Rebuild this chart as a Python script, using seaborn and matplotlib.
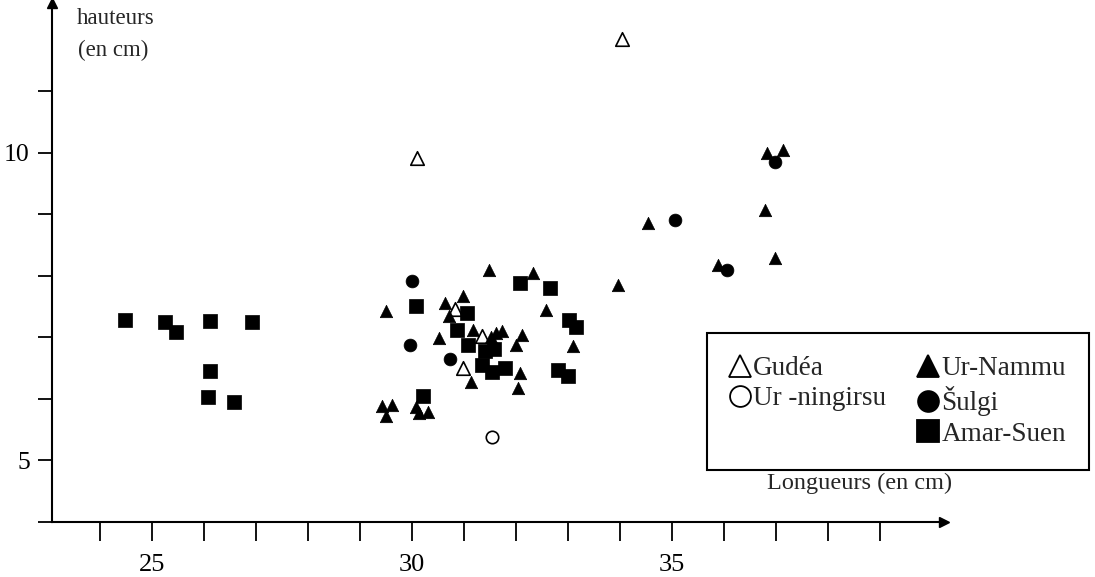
import matplotlib
matplotlib.use("Agg")
import matplotlib.pyplot as plt
from matplotlib.lines import Line2D
import seaborn as sns

# ---------------- data ----------------
gudea_x = [34.03, 30.10, 30.83, 31.34, 30.99]
gudea_y = [11.85, 9.91, 7.45, 7.02, 6.50]

urningirsu_x = [31.54]
urningirsu_y = [5.38]

urnammu_x = [29.51, 30.64, 30.99, 30.71, 30.53, 31.17, 31.52, 31.62, 31.74, 31.49,
             32.33, 32.57, 32.12, 32.01, 33.10, 32.08, 32.04, 31.13, 33.97, 34.54,
             35.88, 29.43, 29.61, 29.51, 30.07, 30.13, 30.31, 36.83, 37.14, 36.79,
             36.99]
urnammu_y = [7.42, 7.56, 7.66, 7.34, 6.99, 7.12, 7.00, 7.06, 7.10, 8.09,
             8.04, 7.44, 7.04, 6.87, 6.85, 6.42, 6.17, 6.27, 7.84, 8.86,
             8.18, 5.88, 5.90, 5.72, 5.87, 5.76, 5.78, 10.00, 10.04, 9.06,
             8.28]

sulgi_x = [30.01, 29.96, 30.74, 35.06, 36.05, 36.99]
sulgi_y = [7.92, 6.87, 6.65, 8.91, 8.09, 9.84]

amarsuen_x = [30.07, 31.05, 30.87, 31.08, 31.40, 31.58, 31.35, 31.54, 31.79, 32.08,
              32.66, 33.02, 33.15, 32.81, 33.00, 30.21,
              24.49, 25.25, 25.46, 26.12, 26.93, 26.12, 26.08, 26.58]
amarsuen_y = [7.51, 7.39, 7.11, 6.87, 6.77, 6.80, 6.54, 6.44, 6.50, 7.88,
              7.80, 7.27, 7.16, 6.47, 6.36, 6.04,
              7.28, 7.24, 7.09, 7.26, 7.25, 6.45, 6.03, 5.95]

x_ticks = list(range(24, 40))
x_tick_labels = ["25" if t == 25 else "30" if t == 30 else "35" if t == 35 else "" for t in x_ticks]
y_ticks = list(range(4, 12))
y_tick_labels = ["5" if t == 5 else "10" if t == 10 else "" for t in y_ticks]

legend_labels = ["Gudéa", "Ur -ningirsu", "Ur-Nammu", "Šulgi", "Amar-Suen"]
y_label = ["hauteurs", "(en cm)"]
x_label = "Longueurs (en cm)"

# ---------------- style ----------------
sns.set_style("ticks")
plt.rcParams["font.family"] = ["Liberation Serif", "DejaVu Serif"]
plt.rcParams["axes.linewidth"] = 1.5

W, H = 1095, 577
fig = plt.figure(figsize=(W / 100, H / 100), dpi=100)
left_px, right_px, top_px, bottom_px = 52, 944, 3, 521.7
ax = fig.add_axes([left_px / W, (H - bottom_px) / H,
                   (right_px - left_px) / W, (bottom_px - top_px) / H])
ax.set_xlim(23.08, 40.23)
ax.set_ylim(4.0, 12.43)

sns.scatterplot(x=gudea_x, y=gudea_y, marker="^", s=95, facecolor="white",
                edgecolor="black", linewidth=1.2, ax=ax, clip_on=False)
sns.scatterplot(x=urningirsu_x, y=urningirsu_y, marker="o", s=80, facecolor="white",
                edgecolor="black", linewidth=1.2, ax=ax)
sns.scatterplot(x=urnammu_x, y=urnammu_y, marker="^", s=80, color="black",
                edgecolor="black", linewidth=0.5, ax=ax)
sns.scatterplot(x=sulgi_x, y=sulgi_y, marker="o", s=85, color="black",
                edgecolor="black", linewidth=0.5, ax=ax)
sns.scatterplot(x=amarsuen_x, y=amarsuen_y, marker="s", s=90, color="black",
                edgecolor="black", linewidth=0.5, ax=ax)

# axes
sns.despine(ax=ax, top=True, right=True)
ax.spines["left"].set_color("black")
ax.spines["bottom"].set_color("black")
ax.set_xticks(x_ticks)
ax.set_xticklabels(x_tick_labels)
ax.set_yticks(y_ticks)
ax.set_yticklabels(y_tick_labels)
ax.tick_params(axis="x", direction="out", length=14, width=1.3, pad=9,
               labelsize=19, colors="black")
ax.tick_params(axis="y", direction="out", length=10, width=1.3, pad=6,
               labelsize=18.5, colors="black")
ax.set_xlabel("")
ax.set_ylabel("")

# arrow heads
ax.plot(1, 0, marker=">", color="black", markersize=7,
        transform=ax.transAxes, clip_on=False)
ax.plot(0, 1, marker="^", color="black", markersize=7,
        transform=ax.transAxes, clip_on=False)

# axis titles
fig.text(77 / W, 1 - 18 / H, y_label[0], ha="left", va="center", fontsize=16.5)
fig.text(78 / W, 1 - 50 / H, y_label[1], ha="left", va="center", fontsize=16.5)
fig.text(767 / W, 1 - 483 / H, x_label, ha="left", va="center", fontsize=17.5)

# legend
def h(marker, fc, ms):
    return Line2D([], [], linestyle="none", marker=marker, markersize=ms,
                  markerfacecolor=fc, markeredgecolor="black", markeredgewidth=1.3)

handles = [h("^", "white", 16), h("o", "white", 15), Line2D([], [], linestyle="none"),
           h("^", "black", 16), h("o", "black", 15), h("s", "black", 16)]
labels = [legend_labels[0], legend_labels[1], "",
          legend_labels[2], legend_labels[3], legend_labels[4]]
leg = fig.legend(handles, labels, ncol=2, loc="upper left",
                 bbox_to_anchor=(707 / W, 1 - 333 / H),
                 fontsize=19.5, frameon=True, fancybox=False, shadow=False,
                 handlelength=0.7, handletextpad=0.15, columnspacing=1.2,
                 labelspacing=0.2, borderpad=0.85, borderaxespad=0)
leg.get_frame().set_edgecolor("black")
leg.get_frame().set_linewidth(1.5)
leg.get_frame().set_alpha(1)

fig.savefig("out.png", dpi=100, facecolor="white")
